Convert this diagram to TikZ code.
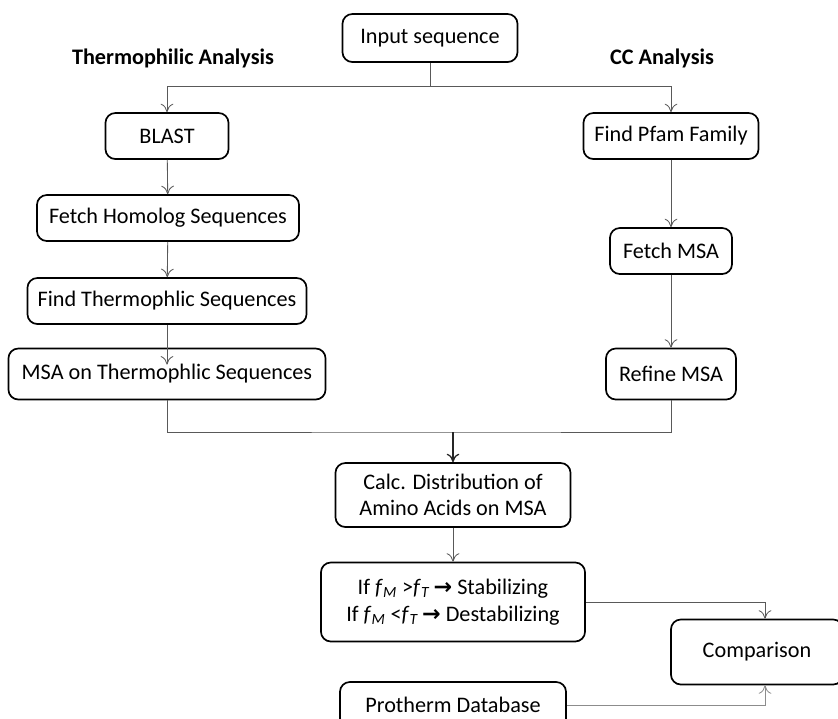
\documentclass[tikz,border=0pt]{standalone}
\usepackage{fontspec}
\setmainfont{Carlito}
\newfontfamily\arrowfont{DejaVu Sans}
\usetikzlibrary{arrows.meta, positioning}

\begin{document}
\begin{tikzpicture}[
        x=0.025cm, y=-0.025cm,
        font=\fontsize{15.8}{19}\selectfont,
        box/.style={rectangle, draw=black, very thick, rounded corners=7pt, fill=white, minimum height=1.15cm, align=center, inner sep=2pt},
        head/.style={font=\fontsize{15.8}{19}\selectfont\bfseries},
        link/.style={draw=black!65, line width=0.6pt},
        arrow/.style={link, -{To[length=6pt, width=9pt]}}
    ]
        \useasboundingbox (0,0) rectangle (838,719);
        \clip (0,0) rectangle (838,719);

        % top and column headings
        \node[box, minimum width=4.375cm, minimum height=1.2cm] (inp) at (430,38) {Input sequence};
        \node[head] (thermo) at (173,58) {Thermophilic Analysis};
        \node[head] (cc) at (662,58) {CC Analysis};

        % left column
        \node[box, minimum width=3.075cm] (blast) at (167,136) {BLAST};
        \node[box, minimum width=6.55cm] (homolog) at (168,218) {Fetch Homolog Sequences};
        \node[box, minimum width=6.975cm] (findth) at (167,301) {Find Thermophlic Sequences};
        \node[box, minimum width=7.925cm, minimum height=1.275cm] (msath) at (167,374) {MSA on Thermophlic Sequences};

        % right column
        \node[box, minimum width=4.375cm] (pfam) at (671,136) {Find Pfam Family};
        \node[box, minimum width=3.05cm] (fmsa) at (671,251) {Fetch MSA};
        \node[box, minimum width=3.25cm, minimum height=1.275cm] (refine) at (671,374) {Refine MSA};

        % merge
        \node[box, minimum width=5.875cm, minimum height=1.6cm] (calc) at (453,495) {Calc. Distribution of\\Amino Acids on MSA};
        \node[box, minimum width=6.6cm, minimum height=1.975cm] (rule) at (453,602)
            {If \textit{f}\textsubscript{\textit{M}} >\textit{f}\textsubscript{\textit{T}}\,{\arrowfont\bfseries →} Stabilizing\\
             If \textit{f}\textsubscript{\textit{M}} <\textit{f}\textsubscript{\textit{T}}\,{\arrowfont\bfseries →} Destabilizing};
        \node[box, minimum width=4.3cm, minimum height=1.625cm] (comp) at (757,652) {Comparison};
        \node[box, minimum width=5.65cm] (proth) at (453,705) {Protherm Database};

        \coordinate (split) at (430,86);
        \coordinate (join) at (453,432);
        \coordinate (cin) at ([xshift=0.2cm]comp.north);
        \coordinate (cout) at ([xshift=0.2cm]comp.south);

        % connectors
        \draw[link] (inp.south) -- (split);
        \draw[arrow] (split) -| (blast.north);
        \draw[arrow] (split) -| (pfam.north);
        \draw[arrow] (blast) -- (homolog);
        \draw[arrow] (homolog) -- (findth);
        \draw[arrow, shorten >=-12pt] (findth) -- (msath);
        \draw[arrow] (pfam) -- (fmsa);
        \draw[arrow] (fmsa) -- (refine);
        \draw[link] (msath.south) |- (join) -| (refine.south);
        \draw[arrow, draw=black!85, line width=0.9pt] (join) -- (calc);
        \draw[arrow] (calc) -- (rule);
        \draw[arrow] (rule.east) -| (cin);
        \draw[arrow, draw=black!45] (proth.east) -| (cout);
    \end{tikzpicture}
\end{document}
